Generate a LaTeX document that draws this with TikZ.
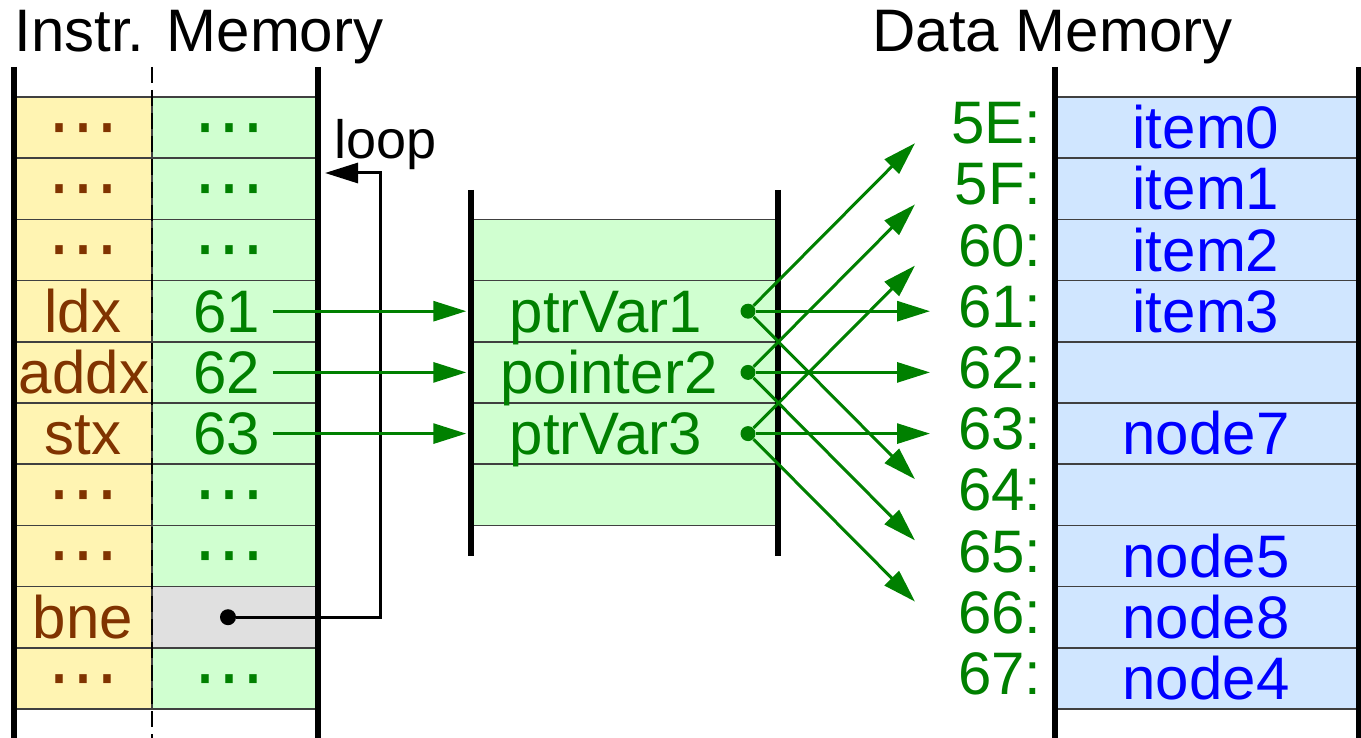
\documentclass[tikz,border=0pt]{standalone}
\usepackage{fontspec}
\setmainfont{Liberation Sans}
\newfontfamily\dotfont{DejaVu Sans}
\usepackage{xcolor}
\usetikzlibrary{arrows.meta}

\definecolor{opbrown}{RGB}{128,51,0}
\definecolor{opgreen}{RGB}{0,128,0}
\definecolor{itemblue}{RGB}{0,0,255}
\definecolor{cellyellow}{RGB}{255,244,178}
\definecolor{cellgreen}{RGB}{208,255,208}
\definecolor{cellblue}{RGB}{208,230,255}
\definecolor{cellgray}{RGB}{224,224,224}

\begin{document}
\begin{tikzpicture}[x=0.5pt,y=-0.5pt,>={Triangle[length=16.5pt,width=10pt]},
  title/.style={font=\fontsize{30}{36}\selectfont,inner sep=0pt,anchor=base},
  lbl/.style={font=\fontsize{30}{36}\selectfont,inner sep=0pt,anchor=base,yshift=-10.5pt},
  oplbl/.style={lbl,text=opbrown},
  arglbl/.style={lbl,text=opgreen},
  itemlbl/.style={lbl,text=itemblue},
  addrlbl/.style={font=\fontsize{30}{36}\selectfont,inner sep=0pt,anchor=base east,yshift=-8pt,text=opgreen},
  dotslbl/.style={font=\dotfont\fontsize{36}{40}\selectfont,inner sep=0pt,anchor=base,yshift=-11.4pt},
  opdots/.style={dotslbl,text=opbrown},
  argdots/.style={dotslbl,text=opgreen},
  cellline/.style={draw=black!75,line width=0.75pt},
  midcell/.style={cellline,fill=cellgreen,minimum width=152pt,minimum height=30.6pt,inner sep=0pt},
  wall/.style={line width=2.6pt},
  ptr/.style={->,draw=opgreen,line width=1.5pt},
  ptrdot/.style={circle,fill=opgreen,inner sep=0pt,minimum size=7.5pt}]
  \useasboundingbox (0,0) rectangle (1361,738);

  % instruction memory
  \filldraw[cellline,fill=cellyellow] (14,97) rectangle (152,158.2);
  \filldraw[cellline,fill=cellgreen] (152,97) rectangle (318,158.2);
  \filldraw[cellline,fill=cellyellow] (14,158.2) rectangle (152,219.4);
  \filldraw[cellline,fill=cellgreen] (152,158.2) rectangle (318,219.4);
  \filldraw[cellline,fill=cellyellow] (14,219.4) rectangle (152,280.6);
  \filldraw[cellline,fill=cellgreen] (152,219.4) rectangle (318,280.6);
  \filldraw[cellline,fill=cellyellow] (14,280.6) rectangle (152,341.8);
  \filldraw[cellline,fill=cellgreen] (152,280.6) rectangle (318,341.8);
  \filldraw[cellline,fill=cellyellow] (14,341.8) rectangle (152,403);
  \filldraw[cellline,fill=cellgreen] (152,341.8) rectangle (318,403);
  \filldraw[cellline,fill=cellyellow] (14,403) rectangle (152,464.2);
  \filldraw[cellline,fill=cellgreen] (152,403) rectangle (318,464.2);
  \filldraw[cellline,fill=cellyellow] (14,464.2) rectangle (152,525.4);
  \filldraw[cellline,fill=cellgreen] (152,464.2) rectangle (318,525.4);
  \filldraw[cellline,fill=cellyellow] (14,525.4) rectangle (152,586.6);
  \filldraw[cellline,fill=cellgreen] (152,525.4) rectangle (318,586.6);
  \filldraw[cellline,fill=cellyellow] (14,586.6) rectangle (152,647.8);
  \filldraw[cellline,fill=cellgray] (152,586.6) rectangle (318,647.8);
  \filldraw[cellline,fill=cellyellow] (14,647.8) rectangle (152,709);
  \filldraw[cellline,fill=cellgreen] (152,647.8) rectangle (318,709);
  \draw[cellline] (14,709) -- (318,709);
  \draw[dash pattern=on 8pt off 3.5pt,line width=0.6pt] (152,67) -- (152,738);

  \node[opdots] (op0) at (83,127.6) {⋯};
  \node[argdots] (arg0) at (229,127.6) {⋯};
  \node[opdots] (op1) at (83,188.8) {⋯};
  \node[argdots] (arg1) at (229,188.8) {⋯};
  \node[opdots] (op2) at (83,250) {⋯};
  \node[argdots] (arg2) at (229,250) {⋯};
  \node[oplbl] (op3) at (83,311.2) {ldx};
  \node[arglbl] (arg3) at (227,311.2) {61};
  \node[oplbl] (op4) at (84,372.4) {addx};
  \node[arglbl] (arg4) at (227,372.4) {62};
  \node[oplbl] (op5) at (83,433.6) {stx};
  \node[arglbl] (arg5) at (227,433.6) {63};
  \node[opdots] (op6) at (83,494.8) {⋯};
  \node[argdots] (arg6) at (229,494.8) {⋯};
  \node[opdots] (op7) at (83,556) {⋯};
  \node[argdots] (arg7) at (229,556) {⋯};
  \node[oplbl] (op8) at (83,617.2) {bne};
  \node[circle,fill=black,inner sep=0pt,minimum size=8pt] (bdot) at (228,617.2) {};
  \node[opdots] (op9) at (83,678.4) {⋯};
  \node[argdots] (arg9) at (229,678.4) {⋯};

  \draw[wall] (14,67) -- (14,738);
  \draw[wall] (318,67) -- (318,738);
  \node[title,anchor=base west] (instrtitle) at (14,52) {Instr. Memory};

  % loop back
  \node[title,font=\fontsize{27}{32}\selectfont] (looplbl) at (386,159) {loop};
  \coordinate (loopcorner) at (380,173);
  \coordinate (looptip) at (325,173);
  \draw[->,line width=1.5pt] (bdot) -| (loopcorner) -- (looptip);

  % pointer variables
  \node[midcell] (mc0) at (625,250) {};
  \node[midcell] (mc1) at (625,311.2) {};
  \node[midcell] (mc2) at (625,372.4) {};
  \node[midcell] (mc3) at (625,433.6) {};
  \node[midcell] (mc4) at (625,494.8) {};
  \node[arglbl] (var1) at (606,311.2) {ptrVar1};
  \node[arglbl] (var2) at (609,372.4) {pointer2};
  \node[arglbl] (var3) at (606,433.6) {ptrVar3};
  \draw[wall] (471,190) -- (471,556);
  \draw[wall] (778,190) -- (778,556);
  \node[ptrdot] (pd1) at (748,311.2) {};
  \node[ptrdot] (pd2) at (748,372.4) {};
  \node[ptrdot] (pd3) at (748,433.6) {};

  \draw[ptr,shorten <=6pt,shorten >=3pt] (arg3.east |- mc1.west) -- (mc1.west);
  \draw[ptr,shorten <=6pt,shorten >=3pt] (arg4.east |- mc2.west) -- (mc2.west);
  \draw[ptr,shorten <=6pt,shorten >=3pt] (arg5.east |- mc3.west) -- (mc3.west);

  % data memory
  \filldraw[cellline,fill=cellblue] (1055,97) rectangle (1359,158.2);
  \filldraw[cellline,fill=cellblue] (1055,158.2) rectangle (1359,219.4);
  \filldraw[cellline,fill=cellblue] (1055,219.4) rectangle (1359,280.6);
  \filldraw[cellline,fill=cellblue] (1055,280.6) rectangle (1359,341.8);
  \filldraw[cellline,fill=cellblue] (1055,341.8) rectangle (1359,403);
  \filldraw[cellline,fill=cellblue] (1055,403) rectangle (1359,464.2);
  \filldraw[cellline,fill=cellblue] (1055,464.2) rectangle (1359,525.4);
  \filldraw[cellline,fill=cellblue] (1055,525.4) rectangle (1359,586.6);
  \filldraw[cellline,fill=cellblue] (1055,586.6) rectangle (1359,647.8);
  \filldraw[cellline,fill=cellblue] (1055,647.8) rectangle (1359,709);
  \draw[wall] (1055,67) -- (1055,738);
  \draw[wall] (1359,67) -- (1359,738);
  \node[title,anchor=base west] (datatitle) at (872,52) {Data Memory};

  \node[addrlbl] (a5E) at (1042,127.6) {5E:};
  \node[addrlbl] (a5F) at (1042,188.8) {5F:};
  \node[addrlbl] (a60) at (1042,250) {60:};
  \node[addrlbl] (a61) at (1042,311.2) {61:};
  \node[addrlbl] (a62) at (1042,372.4) {62:};
  \node[addrlbl] (a63) at (1042,433.6) {63:};
  \node[addrlbl] (a64) at (1042,494.8) {64:};
  \node[addrlbl] (a65) at (1042,556) {65:};
  \node[addrlbl] (a66) at (1042,617.2) {66:};
  \node[addrlbl] (a67) at (1042,678.4) {67:};
  \node[itemlbl] (item0) at (1206,127.6) {item0};
  \node[itemlbl] (item1) at (1206,188.8) {item1};
  \node[itemlbl] (item2) at (1206,250) {item2};
  \node[itemlbl] (item3) at (1206,311.2) {item3};
  \node[itemlbl] (node7) at (1206,433.6) {node7};
  \node[itemlbl] (node5) at (1206,556) {node5};
  \node[itemlbl] (node8) at (1206,617.2) {node8};
  \node[itemlbl] (node4) at (1206,678.4) {node4};

  % pointer targets
  \coordinate (up1) at (915,143.2);
  \coordinate (mid1) at (930,311.2);
  \coordinate (dn1) at (915,479.2);
  \coordinate (up2) at (915,204.4);
  \coordinate (mid2) at (930,372.4);
  \coordinate (dn2) at (915,540.4);
  \coordinate (up3) at (915,265.6);
  \coordinate (mid3) at (930,433.6);
  \coordinate (dn3) at (915,601.6);
  \draw[ptr] (pd1) -- (up1);
  \draw[ptr] (pd1) -- (mid1);
  \draw[ptr] (pd1) -- (dn1);
  \draw[ptr] (pd2) -- (up2);
  \draw[ptr] (pd2) -- (mid2);
  \draw[ptr] (pd2) -- (dn2);
  \draw[ptr] (pd3) -- (up3);
  \draw[ptr] (pd3) -- (mid3);
  \draw[ptr] (pd3) -- (dn3);
\end{tikzpicture}
\end{document}
